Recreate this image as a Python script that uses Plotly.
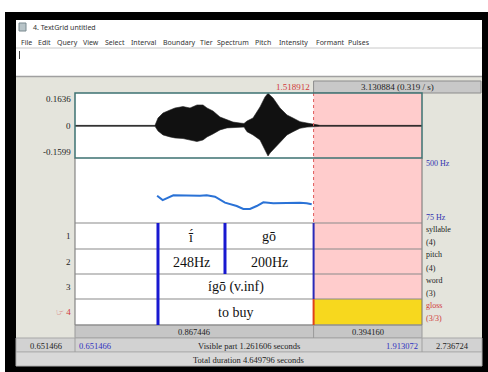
import plotly.graph_objects as go

W, H = 488, 372

# editor time window (s)
win_start = 0.651466
win_end = 1.913072
cursor = 1.518912
total_dur = 4.649796

# waveform envelope (upper / lower amplitude) over time
wave_t = [0.6515, 0.9424, 0.9532, 0.9714, 0.9969, 1.0150, 1.0441, 1.0696, 1.0950,
          1.1169, 1.1314, 1.1532, 1.1787, 1.2041, 1.2259, 1.2514, 1.2659, 1.2768,
          1.2986, 1.3241, 1.3423, 1.3532, 1.3605, 1.3714, 1.3968, 1.4223, 1.4441,
          1.4695, 1.4950, 1.5168, 1.5422, 1.9131]
wave_hi = [0.0025, 0.0025, 0.039, 0.064, 0.079, 0.089, 0.096, 0.089, 0.104,
           0.104, 0.089, 0.074, 0.044, 0.029, 0.019, 0.014, 0.012, 0.024,
           0.039, 0.094, 0.144, 0.162, 0.154, 0.139, 0.089, 0.054, 0.039,
           0.021, 0.014, 0.007, 0.0025, 0.0025]
wave_lo = [-0.0025, -0.0025, -0.025, -0.045, -0.055, -0.060, -0.063, -0.070, -0.078,
           -0.070, -0.055, -0.040, -0.020, -0.010, -0.008, -0.005, -0.006, -0.029,
           -0.045, -0.070, -0.120, -0.150, -0.135, -0.120, -0.085, -0.045, -0.029,
           -0.012, -0.006, -0.004, -0.0025, -0.0025]

# pitch contour (Hz)
pitch_t = [0.9500, 0.9703, 1.0089, 1.0576, 1.1059, 1.1303, 1.1605, 1.1968, 1.2394,
           1.2634, 1.2877, 1.3121, 1.3361, 1.3724, 1.4211, 1.4695, 1.4939, 1.5121]
pitch_hz = [253, 225, 256, 253, 253, 256, 247, 208, 186,
            167, 167, 186, 210, 204, 208, 208, 204, 197]

amp_min, amp_max = -0.1599, 0.1636
f0_min, f0_max = 75, 500

# TextGrid tiers
tier_names = ["syllable", "pitch", "word", "gloss"]
tier_counts = ["(4)", "(4)", "(3)", "(3/3)"]
tier_bounds = [[0.9532, 1.1968, 1.518912],
               [0.9532, 1.1968, 1.518912],
               [0.9532, 1.518912],
               [0.9532, 1.518912]]
tier_labels = [["ī́", "gō"],
               ["248Hz", "200Hz"],
               ["ígō (v.inf)"],
               ["to buy"]]
selected_tier = 3

menu_items = ["File", "Edit", "Query", "View", "Select", "Interval", "Boundary",
              "Tier", "Spectrum", "Pitch", "Intensity", "Formant", "Pulses"]
menu_x = [19, 36, 55, 81, 103, 129, 161, 198, 215, 253, 277, 314, 346]

# pixel geometry of the editor panes
PX0, PX1 = 75, 422
WAVE_Y = (93, 158)
PITCH_Y = (158, 223)
TIER_Y = [223, 249, 274, 299, 325]

SERIF = "Liberation Serif"
SANS = "Noto Sans"
BG = "#e4e4dc"


def fx(x):
    return x / W


def fy(y):
    return 1 - y / H


def t2px(t):
    return PX0 + (t - win_start) / (win_end - win_start) * (PX1 - PX0)


shapes = []
annots = []


def rect(x0, y0, x1, y1, fill, line=None, lw=0, layer="below"):
    shapes.append(dict(type="rect", xref="paper", yref="paper",
                       x0=fx(x0), x1=fx(x1), y0=fy(y1), y1=fy(y0),
                       fillcolor=fill, layer=layer,
                       line=dict(color=line or fill, width=lw)))


def hline(x0, x1, y, color, width=1, layer="above", dash="solid"):
    shapes.append(dict(type="line", xref="paper", yref="paper",
                       x0=fx(x0), x1=fx(x1), y0=fy(y), y1=fy(y), layer=layer,
                       line=dict(color=color, width=width, dash=dash)))


def vline(x, y0, y1, color, width=1, layer="above", dash="solid"):
    shapes.append(dict(type="line", xref="paper", yref="paper",
                       x0=fx(x), x1=fx(x), y0=fy(y0), y1=fy(y1), layer=layer,
                       line=dict(color=color, width=width, dash=dash)))


def text(x, y, s, size=9, color="#222", anchor="center", family=SERIF):
    annots.append(dict(xref="paper", yref="paper", x=fx(x), y=fy(y), text=s,
                       showarrow=False, xanchor=anchor, yanchor="middle",
                       font=dict(family=family, size=size, color=color)))


# window frame
rect(5, 12, 488, 372, "#000000")
rect(16, 20, 482, 366, "#ffffff")
# title bar and menu
rect(19, 23, 26, 31, "#b8c4c8", "#7a8a90", 1)
text(31, 27, "4. TextGrid untitled", 7, "#333", "left", SANS)
for name, mx in zip(menu_items, menu_x):
    text(mx, 42, name, 7, "#333", "left", SANS)
hline(16, 482, 48, "#c8c8c8", 1, "below")
vline(19.5, 51, 59, "#444", 1, "below")
# editor background
rect(16, 76, 482, 366, BG)
hline(16, 482, 76.5, "#a0a0a0", 1.5, "below")

# selection duration bar
sel_dur = total_dur - cursor
cur_px = t2px(cursor)
rect(cur_px, 81, 481, 93, "#c8c8c8", "#8c8c8c", 1)
text(cur_px - 2, 87, f"{cursor:.6f}", 9, "#d03a3a", "right")
text((cur_px + 481) / 2, 87, f"{sel_dur:.6f} ({1 / sel_dur:.3f} / s)", 9, "#222")

# panes
rect(PX0, WAVE_Y[0], PX1, TIER_Y[-1], "#ffffff")
shapes.append(dict(type="rect", xref="x", yref="paper", x0=cursor, x1=win_end,
                   y0=fy(TIER_Y[selected_tier]), y1=fy(WAVE_Y[0]),
                   fillcolor="#ffcccc", line=dict(width=0), layer="below"))
shapes.append(dict(type="rect", xref="x", yref="paper", x0=cursor, x1=win_end,
                   y0=fy(TIER_Y[selected_tier + 1]), y1=fy(TIER_Y[selected_tier]),
                   fillcolor="#f7d81e", line=dict(width=0), layer="below"))

# cursor through the sound panes
vline(cur_px, WAVE_Y[0], PITCH_Y[1], "#e05a5a", 1, "above", "dot")

# pane outlines
rect(PX0, WAVE_Y[0], PX1, WAVE_Y[1], "rgba(0,0,0,0)", "#3c7272", 1.5, "above")
vline(PX0, WAVE_Y[1], TIER_Y[-1], "#707070", 1)
vline(PX1, WAVE_Y[1], TIER_Y[-1], "#707070", 1)
for ty in TIER_Y:
    hline(PX0, PX1, ty, "#8a8a8a", 1.2)

# tier interval boundaries and labels
for i, (bounds, labels) in enumerate(zip(tier_bounds, tier_labels)):
    y0, y1 = TIER_Y[i], TIER_Y[i + 1]
    for b in bounds:
        if abs(b - cursor) < 1e-9:
            col = "#e0401a" if i == selected_tier else "#2a2ab8"
            w = 2
        else:
            col = "#1818d0"
            w = 3
        shapes.append(dict(type="line", xref="x", yref="paper", x0=b, x1=b,
                           y0=fy(y1), y1=fy(y0), layer="above",
                           line=dict(color=col, width=w)))
    for k, lab in enumerate(labels):
        mid = (bounds[k] + bounds[k + 1]) / 2
        annots.append(dict(xref="x", yref="paper", x=mid, y=fy((y0 + y1) / 2 + 0.5),
                           text=lab, showarrow=False, xanchor="center", yanchor="middle",
                           font=dict(family=SERIF, size=14, color="#111")))
    # tier number on the left; the selected tier gets a pointing hand
    if i == selected_tier:
        num = f"<span style='font-family:DejaVu Sans'>☞</span> {i + 1}"
        ncol_l = "#d03a3a"
    else:
        num = str(i + 1)
        ncol_l = "#222"
    text(PX0 - 2, (y0 + y1) / 2, num, 9, ncol_l, "right")
    # tier name and interval count on the right
    ncol = "#d03a3a" if i == selected_tier else "#222"
    text(PX1 + 2, y0 + 6, tier_names[i], 8, ncol, "left")
    text(PX1 + 2, y0 + 19, tier_counts[i], 8, ncol, "left")

# amplitude and frequency labels
text(PX0 - 2, WAVE_Y[0] + 6, f"{amp_max:.4f}", 9, "#222", "right")
text(PX0 - 2, WAVE_Y[0] + (WAVE_Y[1] - WAVE_Y[0]) * amp_max / (amp_max - amp_min), "0", 9, "#222", "right")
text(PX0 - 2, WAVE_Y[1] - 6, f"{amp_min:.4f}", 9, "#222", "right")
text(PX1 + 2, PITCH_Y[0] + 5, f"{f0_max} Hz", 8, "#3030b0", "left")
text(PX1 + 2, PITCH_Y[1] - 6, f"{f0_min} Hz", 8, "#3030b0", "left")

# duration rows at the bottom
rect(PX0, TIER_Y[-1], PX1, 338, "#c6c6c6", "#9a9a9a", 1)
vline(cur_px, TIER_Y[-1], 338, "#9a9a9a", 1)
text((PX0 + cur_px) / 2, 332, f"{cursor - win_start:.6f}", 8.5, "#222")
text((cur_px + PX1) / 2, 332, f"{win_end - cursor:.6f}", 8.5, "#222")

rect(16, 338, 482, 352, "#d2d2d2", "#a8a8a8", 1)
vline(PX0, 338, 352, "#a0a0a0", 1)
vline(PX1, 338, 352, "#a0a0a0", 1)
text((16 + PX0) / 2, 345.5, f"{win_start:.6f}", 8.5, "#222")
text(PX0 + 2, 345.5, f"{win_start:.6f}", 8.5, "#3030c0", "left")
text((PX0 + PX1) / 2, 345.5, f"Visible part {win_end - win_start:.6f} seconds", 8.5, "#222")
text(PX1 - 2, 345.5, f"{win_end:.6f}", 8.5, "#3030c0", "right")
text((PX1 + 482) / 2, 345.5, f"{total_dur - win_end:.6f}", 8.5, "#222")

rect(16, 352, 482, 366, "#d8d8d8", "#b0b0b0", 1)
text((PX0 + PX1) / 2, 359.5, f"Total duration {total_dur:.6f} seconds", 8.5, "#222")

fig = go.Figure()
fig.add_trace(go.Scatter(x=wave_t, y=wave_lo, mode="lines", line=dict(color="#222", width=0.6),
                         hoverinfo="skip", showlegend=False, xaxis="x", yaxis="y"))
fig.add_trace(go.Scatter(x=wave_t, y=wave_hi, mode="lines", line=dict(color="#222", width=0.6),
                         fill="tonexty", fillcolor="#111111",
                         hoverinfo="skip", showlegend=False, xaxis="x", yaxis="y"))
fig.add_trace(go.Scatter(x=pitch_t, y=pitch_hz, mode="lines", line=dict(color="#2a72d6", width=2),
                         hoverinfo="skip", showlegend=False, xaxis="x", yaxis="y2"))

axis_off = dict(visible=False, showgrid=False, zeroline=False, fixedrange=True)
fig.update_layout(
    width=W, height=H,
    margin=dict(l=0, r=0, t=0, b=0),
    paper_bgcolor="#ffffff",
    plot_bgcolor="rgba(0,0,0,0)",
    xaxis=dict(domain=[fx(PX0), fx(PX1)], range=[win_start, win_end], **axis_off),
    yaxis=dict(domain=[fy(WAVE_Y[1]), fy(WAVE_Y[0])], range=[amp_min, amp_max], **axis_off),
    yaxis2=dict(domain=[fy(PITCH_Y[1]), fy(PITCH_Y[0])], range=[f0_min, f0_max], **axis_off),
    shapes=shapes,
    annotations=annots,
    showlegend=False,
)

fig.write_html("out.html")
